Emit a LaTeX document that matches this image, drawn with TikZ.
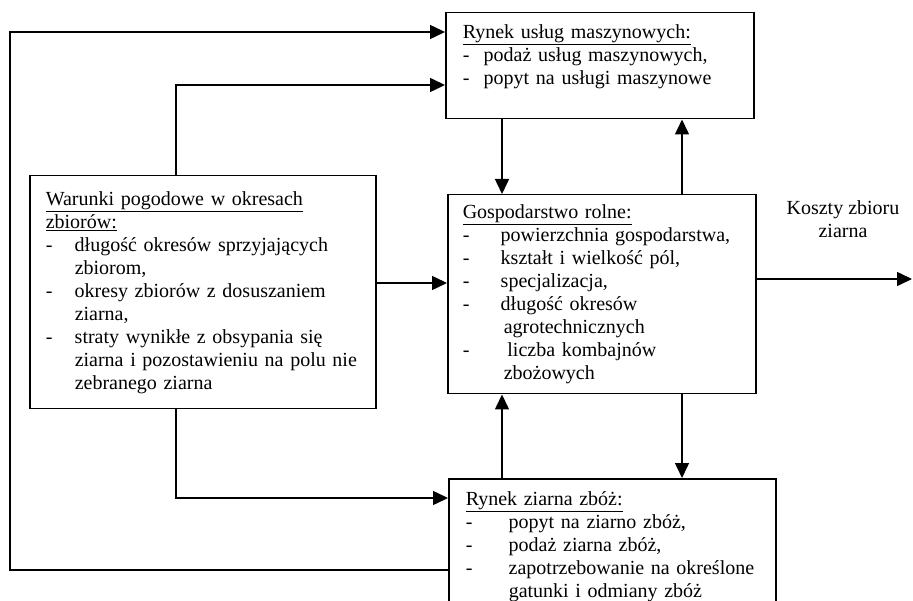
\documentclass[tikz,border=0pt]{standalone}
\usepackage{fontspec}
\setmainfont{Liberation Serif}
\usetikzlibrary{arrows.meta}
\newcommand{\pkt}[1][29pt]{\makebox[#1][l]{-}}
\newcommand{\wc}[1][29pt]{\hspace*{#1}}

\begin{document}
\begin{tikzpicture}[x=1pt, y=-1pt,
  box/.style={draw, line width=1.5pt, anchor=north west, align=left,
    font=\fontsize{20}{23}\selectfont, inner ysep=0pt},
  arr/.style={line width=1.5pt, -{Triangle[length=15pt,width=14pt]}}]
  \useasboundingbox (0,0) rectangle (913,601);

  % --- boxes ---
  \node[box, inner xsep=17pt, text width=274pt, minimum height=106pt] (rynekM) at (445,12) {%
    \underline{Rynek usług maszynowych:}\\
    \pkt[21pt]podaż usług maszynowych,\\
    \pkt[21pt]popyt na usługi maszynowe\\
    \mbox{}};
  \node[box, inner xsep=16pt, text width=314pt, minimum height=233pt] (warunki) at (29,175) {%
    \underline{Warunki pogodowe w okresach}\\
    \underline{zbiorów:}\\
    \pkt długość okresów sprzyjających\\
    \wc zbiorom,\\
    \pkt okresy zbiorów z dosuszaniem\\
    \wc ziarna,\\
    \pkt straty wynikłe z obsypania się\\
    \wc ziarna i pozostawieniu na polu nie\\
    \wc zebranego ziarna};
  \node[box, inner xsep=15pt, text width=278pt, minimum height=199pt] (gosp) at (447,194) {%
    \underline{Gospodarstwo rolne:}\\
    \pkt[38pt]powierzchnia gospodarstwa,\\
    \pkt[38pt]kształt i wielkość pól,\\
    \pkt[38pt]specjalizacja,\\
    \pkt[38pt]długość okresów\\
    \wc[41pt]agrotechnicznych\\
    \pkt[38pt]\ liczba kombajnów\\
    \wc[41pt]zbożowych};
  \node[box, inner xsep=17pt, inner ysep=13pt, text width=293pt] (rynekZ) at (448,478) {%
    \underline{Rynek ziarna zbóż:}\\
    \pkt[43pt]popyt na ziarno zbóż,\\
    \pkt[43pt]podaż ziarna zbóż,\\
    \pkt[43pt]\makebox[248pt][s]{zapotrzebowanie na określone}\\
    \wc[43pt]gatunki i odmiany zbóż};
  \node[font=\fontsize{20}{23}\selectfont, align=center, inner sep=0pt] (koszty) at (843,219) {Koszty zbioru\\ziarna};

  % --- helper points for the routing ---
  \coordinate (lewyD) at (10,570);
  \coordinate (lewyG) at (10,32);
  \coordinate (wGora) at (176,85);
  \coordinate (wDol) at (176,498);
  \coordinate (wPrawo) at (0,283);
  \coordinate (xa) at (502,0);
  \coordinate (xb) at (682,0);
  \coordinate (wyjscie) at (912,279);

  % --- connectors ---
  \draw[arr] (rynekZ.west |- lewyD) -- (lewyD) -- (lewyG) -- (rynekM.west |- lewyG);
  \draw[arr] (warunki.north -| wGora) |- (rynekM.west |- wGora);
  \draw[arr] (warunki.south -| wDol) |- (rynekZ.west |- wDol);
  \draw[arr] (warunki.east |- wPrawo) -- (gosp.west |- wPrawo);
  \draw[arr] (rynekM.south -| xa) -- (gosp.north -| xa);
  \draw[arr] (gosp.north -| xb) -- (rynekM.south -| xb);
  \draw[arr] (rynekZ.north -| xa) -- (gosp.south -| xa);
  \draw[arr] (gosp.south -| xb) -- (rynekZ.north -| xb);
  \draw[arr] (gosp.east |- wyjscie) -- (wyjscie);
\end{tikzpicture}
\end{document}
